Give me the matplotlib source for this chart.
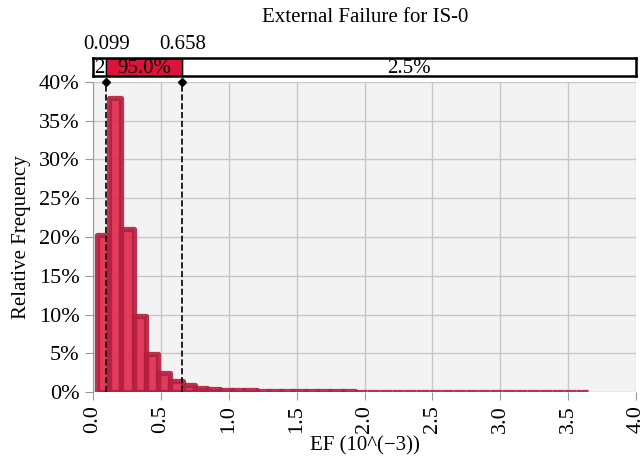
import numpy as np
import matplotlib.pyplot as plt
from matplotlib.ticker import PercentFormatter
from matplotlib.transforms import Bbox, TransformedBbox

plt.rcParams['font.family'] = ['Liberation Serif', 'DejaVu Serif']

# histogram data (EF in 10^-3), bin range and relative frequency per bin
bin_start = 0.027
bin_end = 3.65
n_bins = 40
freq = [0.202, 0.380, 0.210, 0.098, 0.049, 0.025, 0.014, 0.009,
        0.0055, 0.0040, 0.0030, 0.0025, 0.0020, 0.0017, 0.0015, 0.0013,
        0.0011, 0.0010, 0.0009, 0.0008, 0.0007, 0.0006, 0.0006, 0.0005,
        0.0005, 0.0004, 0.0004, 0.0004, 0.0003, 0.0003, 0.0003, 0.0003,
        0.0002, 0.0002, 0.0002, 0.0002, 0.0002, 0.0002, 0.0002, 0.0002]

# 95% interval
lo, hi = 0.099, 0.658
band_labels = ['2.5%', '95.0%', '2.5%']

edges = np.linspace(bin_start, bin_end, n_bins + 1)

fig = plt.figure(figsize=(6.44, 4.58), dpi=100)
ax = fig.add_axes([93 / 644, 66 / 458, 543 / 644, 310 / 458])
ax.set_facecolor('#f3f3f3')
bars = ax.bar(edges[:-1], freq, width=np.diff(edges), align='edge',
              color='#e0284c', alpha=0.9, edgecolor='#b3203f', linewidth=3.8,
              zorder=2)
for b in bars:
    b.set_joinstyle('round')
ax.set_xlim(0, 4)
ax.set_ylim(0, 0.40)
ax.set_xticks(np.arange(0, 4.01, 0.5))
ax.set_xticklabels([f'{v:.1f}' for v in np.arange(0, 4.01, 0.5)], rotation=90)
ax.set_yticks(np.arange(0, 0.401, 0.05))
ax.yaxis.set_major_formatter(PercentFormatter(1.0, decimals=0))
ax.grid(True, color='#c8c8c8', linewidth=1, zorder=0)
ax.set_axisbelow(True)
for s in ['top', 'right', 'bottom']:
    ax.spines[s].set_visible(False)
ax.spines['left'].set_color('#999999')
ax.tick_params(labelsize=16, color='#999999', length=6)
ax.set_xlabel('EF (10^(\u22123))', fontsize=15, labelpad=2)
ax.set_ylabel('Relative Frequency', fontsize=15, labelpad=6)

for v in [lo, hi]:
    ax.plot([v, v], [0, 0.40], color='black', linestyle='--', linewidth=1.2,
            zorder=3, clip_on=False)
    ax.plot([v], [0.40], marker='D', color='black', markersize=4,
            zorder=4, clip_on=False)

# band with the interval above the plot
band = fig.add_axes([93 / 644, 382 / 458, 543 / 644, 18 / 458])
band.set_xlim(0, 4)
band.set_ylim(0, 1)
band.set_xticks([])
band.set_yticks([])
for s in band.spines.values():
    s.set_linewidth(1.8)
t = band.text(0.005, 0.42, band_labels[0], ha='left', va='center',
              fontsize=15, zorder=1)
t.set_clip_box(TransformedBbox(Bbox([[0, 0], [lo, 1]]), band.transData))
t.set_clip_on(True)
band.axvspan(lo, hi, color='#dc143c', zorder=2)
band.axvline(lo, color='black', linewidth=1, zorder=3)
band.axvline(hi, color='black', linewidth=1, zorder=3)
band.text((lo + hi) / 2, 0.42, band_labels[1], ha='center', va='center',
          fontsize=15, zorder=4)
band.text((hi + 4) / 2, 0.42, band_labels[2], ha='center', va='center',
          fontsize=15, zorder=4)
band.text(lo, 1.2, f'{lo:.3f}', ha='center', va='bottom', fontsize=15)
band.text(hi, 1.2, f'{hi:.3f}', ha='center', va='bottom', fontsize=15)

fig.text(365 / 644, 1 - 18 / 458, 'External Failure for IS-0', ha='center',
         va='center', fontsize=15)

fig.savefig('out.png', dpi=100)
